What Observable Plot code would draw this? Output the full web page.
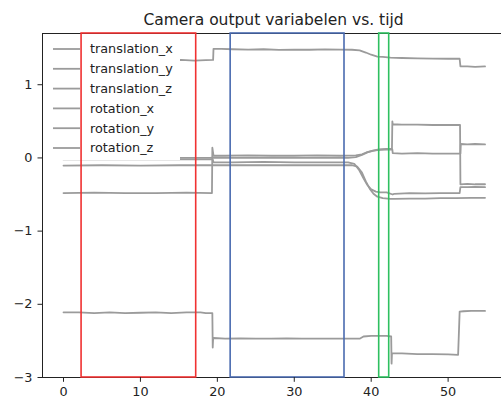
<!DOCTYPE html>
<html><head><meta charset="utf-8">
<script src="https://cdn.jsdelivr.net/npm/d3@7"></script>
<script src="https://cdn.jsdelivr.net/npm/@observablehq/plot@0.6"></script>
<style>html,body{margin:0;padding:0;background:#fff;overflow:hidden;width:501px;height:401px}svg{max-width:none!important}</style>
</head><body><div id="chart"></div>
<script>
const title = "Camera output variabelen vs. tijd";
const seriesNames = ["translation_x","translation_y","translation_z","rotation_x","rotation_y","rotation_z"];

const txT = [0,5,10,15.3, 17,18.5,19.45,19.5, 20.5,22,24,26, 28,30,32,34, 36,37.5,38.5,39.3, 40,40.8,41.5,42.5, 44,46,48,50, 51.5,51.6,52.5,53.5, 54.8];
const txV = [1.33,1.33,1.33,1.34, 1.33,1.335,1.34,1.49, 1.49,1.485,1.48,1.485, 1.475,1.48,1.478,1.482, 1.48,1.478,1.47,1.44, 1.41,1.385,1.38,1.37, 1.365,1.36,1.358,1.355, 1.355,1.25,1.25,1.245, 1.25];

const tyT = [0,4,8,12, 16,19.3,19.35,19.5, 21,24,27,30, 33,36,38,38.8, 39.5,40.2,41,42, 42.7,42.75,42.8,44, 46,48,50,51.55, 51.6,52.5,53.5,54.8];
const tyV = [-0.48,-0.475,-0.48,-0.48, -0.475,-0.48,0.14,0.03, 0.03,0.035,0.03,0.03, 0.035,0.03,0.035,0.05, 0.08,0.1,0.115,0.125, 0.125,0.5,0.46,0.455, 0.455,0.45,0.45,0.45, -0.36,-0.355,-0.36,-0.36];

const tzT = [0,2,4,6, 8,10,12,14, 16,17.8,18.5,19.35, 19.4,19.45,19.5,21, 23,25,27,29, 31,33,35,37, 38.5,39,40,41, 42,42.6,42.65,42.7, 42.75,44,46,48, 50,51.3,51.5,52, 53,54.8];
const tzV = [-2.11,-2.11,-2.12,-2.11, -2.12,-2.115,-2.11,-2.12, -2.11,-2.11,-2.12,-2.12, -2.59,-2.47,-2.46,-2.47, -2.465,-2.47,-2.47,-2.465, -2.47,-2.47,-2.47,-2.47, -2.47,-2.44,-2.43,-2.43, -2.43,-2.44,-2.81,-2.67, -2.67,-2.67,-2.68,-2.68, -2.685,-2.69,-2.10,-2.095, -2.09,-2.09];

const rxT = [0,5,10,15, 19,19.5,22,25, 28,31,34,37, 38,38.8,39.5,40.2, 41,42,42.75,42.8, 44,46,48,50, 51.6,51.65,52.5,53.5, 54.8];
const rxV = [0.0,0.0,0.0,0.0, 0.0,0.005,0.0,0.005, 0.0,0.0,0.005,0.0, 0.01,0.04,0.075,0.095, 0.11,0.115,0.115,0.065, 0.06,0.065,0.06,0.06, 0.06,0.19,0.185,0.19, 0.185];

const ryT = [0,5,10,15, 20,25,30,35, 37.5,38.2,38.8,39.3, 39.8,40.3,40.8,41.5, 42.5,43,45,47, 49,51,53,54.8];
const ryV = [-0.105,-0.1,-0.105,-0.1, -0.1,-0.1,-0.1,-0.1, -0.1,-0.12,-0.2,-0.32, -0.42,-0.49,-0.53,-0.55, -0.56,-0.56,-0.555,-0.555, -0.55,-0.55,-0.545,-0.545];

const rzT = [0,5,10,15, 19.4,19.5,22,26, 30,34,37,37.8, 38.4,39,39.5,40, 40.6,41.2,42,42.8, 43,45,47,49, 51.5,51.6,52.5,53.5, 54.8];
const rzV = [-0.02,-0.02,-0.02,-0.02, -0.02,-0.06,-0.06,-0.055, -0.06,-0.06,-0.06,-0.08, -0.16,-0.28,-0.37,-0.43, -0.46,-0.47,-0.47,-0.5, -0.49,-0.48,-0.485,-0.48, -0.48,-0.40,-0.40,-0.395, -0.40];

const spanStart = [2.35, 21.73, 41.04];
const spanEnd = [17.25, 36.53, 42.34];

const xTicks = [0, 10, 20, 30, 40, 50];
const yTicks = [-3, -2, -1, 0, 1];

const spanColors = ["#f03232", "#4a6bb0", "#2ec060"];
const lineColor = "#9b9b9b";

const times = [txT, tyT, tzT, rxT, ryT, rzT];
const vals = [txV, tyV, tzV, rxV, ryV, rzV];
const rows = seriesNames.flatMap((name, i) => times[i].map((t, j) => ({series: name, t, v: vals[i][j]})));
const spans = spanStart.map((a, i) => ({a, b: spanEnd[i], k: i}));

function legendMark(index, scales, values, dims) {
  const g = d3.create("svg:g");
  const x0 = dims.marginLeft + 6, y0 = dims.marginTop + 6;
  g.append("rect").attr("x", x0).attr("y", y0).attr("width", 132).attr("height", 121).attr("fill", "#fff");
  seriesNames.forEach((name, i) => {
    const cy = y0 + 10 + i * 19.8;
    g.append("line").attr("x1", x0 + 5).attr("x2", x0 + 32).attr("y1", cy).attr("y2", cy)
      .attr("stroke", lineColor).attr("stroke-width", 1.8);
    g.append("text").attr("x", x0 + 42).attr("y", cy).attr("dy", "0.35em")
      .attr("text-anchor", "start")
      .attr("font-family", "DejaVu Sans").attr("font-size", 12.8).attr("fill", "#222").text(name);
  });
  return g.node();
}

const fmt = d => d < 0 ? "\u2212" + Math.abs(d) : String(d);

const chart = Plot.plot({
  width: 510, height: 401,
  marginLeft: 42, marginRight: 6, marginTop: 33, marginBottom: 24,
  style: {fontFamily: "DejaVu Sans", fontSize: "12.8px", color: "#222", background: "#fff", maxWidth: "none"},
  x: {domain: [-2.73, 57.33]},
  y: {domain: [-3.0, 1.70]},
  marks: [
    Plot.line(rows, {x: "t", y: "v", z: "series", stroke: lineColor, strokeWidth: 1.8, strokeLinejoin: "round"}),
    legendMark,
    Plot.frame({stroke: "#222", strokeWidth: 1}),
    ...spans.map(s => Plot.rect([s], {x1: "a", x2: "b", fill: "none", stroke: spanColors[s.k], strokeWidth: 1.6})),
    Plot.axisX({ticks: xTicks, tickSize: 4.8, tickPadding: 5, tickFormat: fmt, label: null, fontSize: 12.8, stroke: "#222"}),
    Plot.axisY({ticks: yTicks, tickSize: 4.5, tickPadding: 5.5, tickFormat: fmt, label: null, fontSize: 12.8, stroke: "#222"}),
    Plot.text([title], {frameAnchor: "top", lineAnchor: "bottom", dy: -8.5, fontSize: 15.5, fill: "#222", text: d => d})
  ]
});
document.getElementById("chart").appendChild(chart);
</script></body></html>
